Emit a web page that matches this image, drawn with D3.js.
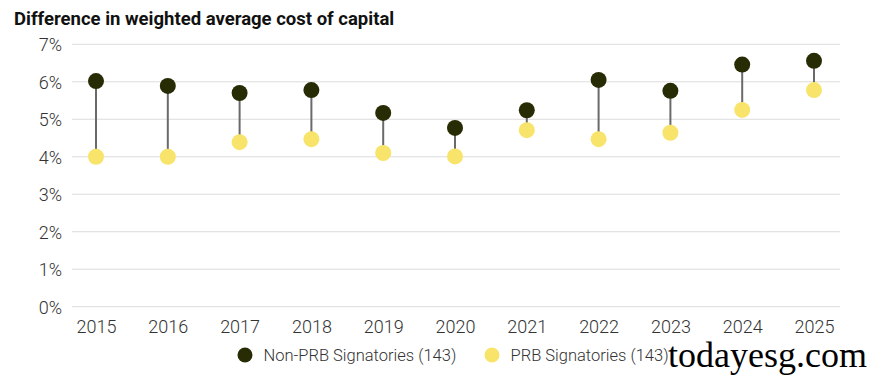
<!DOCTYPE html>
<html>
<head>
<meta charset="utf-8">
<script src="https://cdn.jsdelivr.net/npm/d3@7"></script>
<style>
  body { margin: 0; background: #fff; }
  svg { display: block; font-family: Roboto, sans-serif; }
</style>
</head>
<body>
<script>
var years = ['2015', '2016', '2017', '2018', '2019', '2020', '2021', '2022', '2023', '2024', '2025'];
var nonPrb = [6.02, 5.89, 5.70, 5.78, 5.17, 4.77, 5.24, 6.05, 5.76, 6.46, 6.56];
var prb = [4.00, 4.00, 4.39, 4.47, 4.10, 4.01, 4.71, 4.47, 4.64, 5.25, 5.78];
var yTicks = [0, 1, 2, 3, 4, 5, 6, 7];
var seriesNames = ['Non-PRB Signatories (143)', 'PRB Signatories (143)'];
var seriesColors = ['#272c05', '#f8e46a'];

var width = 873, height = 375;

var svg = d3.select('body').append('svg')
  .attr('width', width)
  .attr('height', height);

var x = d3.scalePoint()
  .domain(years)
  .range([96, 814]);

var y = d3.scaleLinear()
  .domain([0, 7])
  .range([306.7, 44.3]);

// title
svg.append('text')
  .attr('x', 14)
  .attr('y', 25)
  .style('font-family', 'Roboto, sans-serif')
  .style('font-weight', 700)
  .style('font-size', '18.5px')
  .attr('fill', '#111')
  .text('Difference in weighted average cost of capital');

// gridlines
svg.append('g')
  .selectAll('line')
  .data(yTicks)
  .enter().append('line')
  .attr('x1', 72)
  .attr('x2', 840)
  .attr('y1', d => y(d))
  .attr('y2', d => y(d))
  .attr('stroke', '#dcdcdc')
  .attr('stroke-width', 1);

// y axis labels
var yAxis = d3.axisLeft(y)
  .tickValues(yTicks)
  .tickSize(0)
  .tickPadding(0)
  .tickFormat(d => d + '%');

svg.append('g')
  .attr('transform', 'translate(62,0)')
  .call(yAxis)
  .call(g => g.select('.domain').remove())
  .selectAll('text')
  .attr('dy', '0.36em')
  .style('font-family', 'Roboto, sans-serif')
  .style('font-weight', 300)
  .style('font-size', '18px')
  .attr('fill', '#333');

// x axis labels
var xAxis = d3.axisBottom(x)
  .tickSize(0)
  .tickPadding(0);

svg.append('g')
  .attr('transform', 'translate(0,333)')
  .call(xAxis)
  .call(g => g.select('.domain').remove())
  .selectAll('text')
  .attr('y', 0)
  .attr('dy', 0)
  .style('font-family', 'Roboto, sans-serif')
  .style('font-weight', 300)
  .style('font-size', '18px')
  .attr('fill', '#333');

// connectors
svg.append('g')
  .selectAll('line')
  .data(years)
  .enter().append('line')
  .attr('x1', d => x(d))
  .attr('x2', d => x(d))
  .attr('y1', (d, i) => y(nonPrb[i]))
  .attr('y2', (d, i) => y(prb[i]))
  .attr('stroke', '#6a6a6a')
  .attr('stroke-width', 2);

// dots
[prb, nonPrb].forEach(function (vals) {
  var color = vals === nonPrb ? seriesColors[0] : seriesColors[1];
  svg.append('g')
    .selectAll('circle')
    .data(years)
    .enter().append('circle')
    .attr('cx', d => x(d))
    .attr('cy', (d, i) => y(vals[i]))
    .attr('r', 8)
    .attr('fill', color);
});

// legend
var legend = svg.append('g');
var legendX = [245, 492];
seriesNames.forEach(function (name, i) {
  legend.append('circle')
    .attr('cx', legendX[i])
    .attr('cy', 355)
    .attr('r', 7.5)
    .attr('fill', seriesColors[i]);
  legend.append('text')
    .attr('x', legendX[i] + 18.5)
    .attr('y', 355)
    .attr('dy', '0.35em')
    .style('font-family', 'Roboto, sans-serif')
    .style('font-weight', 300)
    .style('font-size', '16.5px')
    .attr('fill', '#333')
    .text(name);
});

// watermark
svg.append('text')
  .attr('x', 668)
  .attr('y', 367)
  .style('font-family', '"Liberation Serif", serif')
  .style('font-size', '36px')
  .attr('fill', '#000')
  .text('todayesg.com');
</script>
</body>
</html>
